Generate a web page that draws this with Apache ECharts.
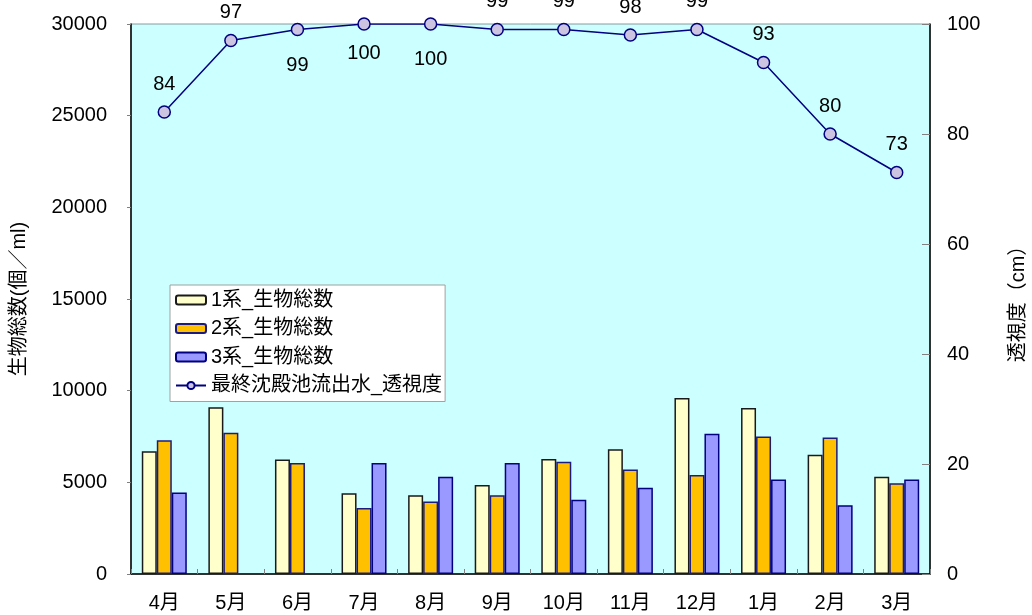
<!DOCTYPE html>
<html>
<head>
<meta charset="utf-8">
<script src="https://cdn.jsdelivr.net/npm/echarts@6/dist/echarts.min.js"></script>
<style>
  html, body { margin: 0; padding: 0; background: #ffffff; }
  #chart { width: 1032px; height: 615px; }
</style>
</head>
<body>
<div id="chart"></div>
<script>
// Months (April to March)
const months = ['4月', '5月', '6月', '7月', '8月', '9月', '10月', '11月', '12月', '1月', '2月', '3月'];

// Total organism counts per line (個/ml)
const line1Total = [6700, 9100, 6250, 4400, 4300, 4850, 6270, 6800, 9600, 9050, 6500, 5300];
const line2Total = [7300, 7700, 6050, 3600, 3950, 4300, 6120, 5700, 5400, 7500, 7450, 4950];
const line3Total = [4450, null, null, 6050, 5300, 6050, 4050, 4700, 7650, 5150, 3750, 5150];

// Transparency of final settling tank effluent (cm)
const transparency = [84, 97, 99, 100, 100, 99, 99, 98, 99, 93, 80, 73];

// Which side of each point its value label sits on
const labelSide = ['top', 'top', 'bottom', 'bottom', 'bottom', 'top', 'top', 'top', 'top', 'top', 'top', 'top'];

const FONT = '"Liberation Sans", "Noto Sans CJK JP", sans-serif';
const FS = 20;

const chart = echarts.init(document.getElementById('chart'), null, { renderer: 'canvas' });

const lineData = transparency.map((v, i) => ({
  value: v,
  label: {
    position: labelSide[i],
    distance: labelSide[i] === 'top' ? 11 : (i === 3 ? 13 : 19)
  }
}));

const barStyle = (fill, border) => ({
  color: fill,
  borderColor: border,
  borderWidth: 1.5
});

const plainNumber = v => String(v);

chart.setOption({
  animation: false,
  textStyle: { fontFamily: FONT, fontSize: FS, color: '#000' },
  grid: {
    left: 131, right: 102, top: 24, bottom: 41,
    containLabel: false,
    outerBoundsMode: 'none',
    show: true,
    backgroundColor: '#CCFFFF',
    borderColor: '#8a9a9a',
    borderWidth: 1
  },
  legend: {
    orient: 'vertical',
    left: 170, top: 285,
    itemWidth: 30,
    itemHeight: 9,
    itemGap: 8.5,
    padding: [5, 3, 6, 5],
    backgroundColor: '#ffffff',
    borderColor: '#a0a0a0',
    borderWidth: 1,
    borderRadius: 0,
    textStyle: { fontFamily: FONT, fontSize: FS, color: '#000' },
    data: ['1系_生物総数', '2系_生物総数', '3系_生物総数', '最終沈殿池流出水_透視度']
  },
  xAxis: {
    type: 'category',
    data: months,
    boundaryGap: true,
    axisLine: { show: true, lineStyle: { color: '#000', width: 1.5 } },
    axisTick: { show: true, inside: true, length: 5, lineStyle: { color: '#808080' } },
    axisLabel: { margin: 19, fontFamily: FONT, fontSize: FS, color: '#000' },
    splitLine: { show: false }
  },
  yAxis: [
    {
      type: 'value',
      min: 0, max: 30000, interval: 5000,
      name: '生物総数(個／ml)',
      nameLocation: 'middle',
      nameRotate: 90,
      nameGap: 102,
      nameTextStyle: { fontFamily: FONT, fontSize: FS, color: '#000' },
      axisLine: { show: true, lineStyle: { color: '#000', width: 1.5 } },
      axisTick: { show: true, inside: false, length: 4, lineStyle: { color: '#808080' } },
      axisLabel: { margin: 24, formatter: plainNumber, fontFamily: FONT, fontSize: FS, color: '#000' },
      splitLine: { show: false }
    },
    {
      type: 'value',
      min: 0, max: 100, interval: 20,
      position: 'right',
      name: '透視度（cm）',
      nameLocation: 'middle',
      nameRotate: 90,
      nameGap: 78,
      nameTextStyle: { fontFamily: FONT, fontSize: FS, color: '#000' },
      axisLine: { show: true, lineStyle: { color: '#000', width: 1.5 } },
      axisTick: { show: true, inside: true, length: 8, lineStyle: { color: '#808080' } },
      axisLabel: { margin: 17, formatter: plainNumber, fontFamily: FONT, fontSize: FS, color: '#000' },
      splitLine: { show: false }
    }
  ],
  series: [
    {
      name: '1系_生物総数', type: 'bar', yAxisIndex: 0,
      data: line1Total, barWidth: 15, barGap: '0%',
      itemStyle: barStyle('#FFFFCC', '#1a1a1a')
    },
    {
      name: '2系_生物総数', type: 'bar', yAxisIndex: 0,
      data: line2Total, barWidth: 15, barGap: '0%',
      itemStyle: barStyle('#FFC000', '#1c1c80')
    },
    {
      name: '3系_生物総数', type: 'bar', yAxisIndex: 0,
      data: line3Total, barWidth: 15, barGap: '0%',
      itemStyle: barStyle('#9999FF', '#000080')
    },
    {
      name: '最終沈殿池流出水_透視度', type: 'line', yAxisIndex: 1,
      data: lineData,
      symbol: 'circle', symbolSize: 12,
      lineStyle: { color: '#000080', width: 1.5 },
      itemStyle: { color: '#CCC4E0', borderColor: '#000080', borderWidth: 1.5 },
      label: { show: true, fontFamily: FONT, fontSize: FS, color: '#000' },
      z: 5
    }
  ]
});
</script>
</body>
</html>
